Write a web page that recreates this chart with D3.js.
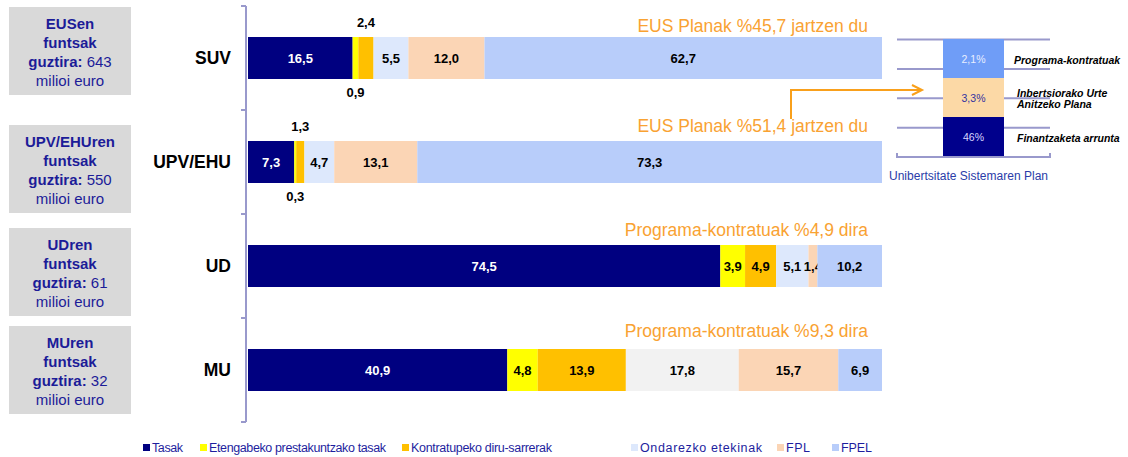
<!DOCTYPE html>
<html><head><meta charset="utf-8">
<script src="https://cdn.jsdelivr.net/npm/d3@7"></script>
<style>
body{margin:0;background:#fff;}
svg{display:block;font-family:"Liberation Sans",Arial,sans-serif;}
</style></head>
<body><svg id="c" width="1128" height="457"></svg>
<script>
// ---- data ----
const categories = ["SUV","UPV/EHU","UD","MU"];
const seriesNames = ["Tasak","Etengabeko prestakuntzako tasak","Kontratupeko diru-sarrerak","Ondarezko etekinak","FPL","FPEL"];
const tasak      = [16.5, 7.3, 74.5, 40.9];
const etengabeko = [0.9, 0.3, 3.9, 4.8];
const kontratu   = [2.4, 1.3, 4.9, 13.9];
const ondarezko  = [5.5, 4.7, 5.1, 17.8];
const fpl        = [12.0, 13.1, 1.4, 15.7];
const fpel       = [62.7, 73.3, 10.2, 6.9];
const valueLabels = [
  ["16,5","0,9","2,4","5,5","12,0","62,7"],
  ["7,3","0,3","1,3","4,7","13,1","73,3"],
  ["74,5","3,9","4,9","5,1","1,4","10,2"],
  ["40,9","4,8","13,9","17,8","15,7","6,9"]
];
const boxNames = ["EUSen","UPV/EHUren","UDren","MUren"];
const boxTotals = ["643","550","61","32"];
const annotations = ["EUS Planak %45,7 jartzen du","EUS Planak %51,4 jartzen du","Programa-kontratuak %4,9 dira","Programa-kontratuak %9,3 dira"];
const planItems = ["Finantzaketa arrunta","Inbertsiorako Urte Anitzeko Plana","Programa-kontratuak"];
const planLabels = ["46%","3,3%","2,1%"];
const planTitle = "Unibertsitate Sistemaren Plan";

// ---- layout / style ----
const colors = ["#000080","#FFFF00","#FFC000","#DDE8FC","#FBD5B5","#B8CDFA"];
const series = [tasak, etengabeko, kontratu, ondarezko, fpl, fpel];
const boxTopY = [7,125,228,326];
const annotGap = [5,9,9,12];
const legX = [143,200,402,631,777,832];
const legW = [31,177,141,122,24,31];

const svg = d3.select("#c");
const x = d3.scaleLinear().domain([0,100]).range([248,882]);
const y = d3.scaleBand().domain(categories).range([6,422]).padding(0);
const barH = 42;

// left boxes
const boxG = svg.append("g");
categories.forEach((c,i)=>{
  const top = boxTopY[i];
  boxG.append("rect").attr("x",9).attr("y",top).attr("width",122).attr("height",88).attr("fill","#D9D9D9");
  const t = boxG.append("text").attr("text-anchor","middle").attr("fill","#1C1C98").style("font-size","15px");
  const lx = 70;
  t.append("tspan").attr("x",lx).attr("y",top+22).attr("font-weight","bold").text(boxNames[i]);
  t.append("tspan").attr("x",lx).attr("y",top+41).attr("font-weight","bold").text("funtsak");
  const l3 = t.append("tspan").attr("x",lx).attr("y",top+60);
  l3.append("tspan").attr("font-weight","bold").text("guztira:");
  l3.append("tspan").text(" "+boxTotals[i]);
  t.append("tspan").attr("x",lx).attr("y",top+79).text("milioi euro");
});

// axis line & ticks
const axisColor = "#9999CC";
svg.append("line").attr("x1",246).attr("x2",246).attr("y1",y.range()[0]).attr("y2",y.range()[1]).attr("stroke",axisColor).attr("stroke-width",2);
const tickYs = categories.map(c=>y(c)).concat([y.range()[1]]);
svg.selectAll(".tk").data(tickYs).enter().append("line").attr("x1",241).attr("x2",246).attr("y1",d=>d).attr("y2",d=>d).attr("stroke",axisColor).attr("stroke-width",2);

// category labels
svg.selectAll(".cat").data(categories).enter().append("text")
  .attr("x",231).attr("y",d=>y(d)+y.bandwidth()/2+6).attr("text-anchor","end")
  .attr("font-weight","bold").style("font-size","17.5px").attr("fill","#000").text(d=>d);

// bars
categories.forEach((c,i)=>{
  let cum = 0;
  const by = y(c) + y.bandwidth()/2 - barH/2;
  series.forEach((s,j)=>{
    const v = s[i];
    const x0 = x(cum), x1 = x(cum+v);
    let col = colors[j];
    if (c==="MU" && j===3) col = "#F2F2F2";
    svg.append("rect").attr("x",x0).attr("y",by).attr("width",x1-x0).attr("height",barH).attr("fill",col);
    let ly = by + barH/2 + 5;
    const small = v < 3 && (c==="SUV"||c==="UPV/EHU");
    if (small) ly = (j===1) ? by + barH + 18 : by - 10;
    const lx = (x0+x1)/2;
    svg.append("text").attr("x",lx).attr("y",ly).attr("text-anchor","middle")
      .attr("font-weight","bold").style("font-size","13px")
      .attr("fill", j===0 ? "#fff" : "#000").text(valueLabels[i][j]);
    cum += v;
  });
  svg.append("text").attr("x",868).attr("y",by-annotGap[i]).attr("text-anchor","end")
    .style("font-size","17.5px").attr("fill","#F9A232").text(annotations[i]);
});

// orange arrow
const ac = "#F9A01B";
const ay = 90;
svg.append("path").attr("d",`M791,${y("UPV/EHU")+9}V${ay}H921`).attr("fill","none").attr("stroke",ac).attr("stroke-width",2);
svg.append("path").attr("d",`M912,${ay-5}L922,${ay}L912,${ay+5}`).attr("fill","none").attr("stroke",ac).attr("stroke-width",2);

// mini chart
const my = d3.scaleLinear().domain([0,4]).range([157,39.5]);
svg.selectAll(".mg").data([1,2,3,4]).enter().append("line")
  .attr("x1",897).attr("x2",1050).attr("y1",d=>my(d)).attr("y2",d=>my(d)).attr("stroke",axisColor).attr("stroke-width",2);
svg.append("path").attr("d",`M897,${my(0)-4}V${my(0)}H1050V${my(0)-4}`).attr("fill","none").attr("stroke",axisColor).attr("stroke-width",2);
const mb = d3.scaleBand().domain(planItems).range([156,39]);
const planColors = ["#00008C","#FCD9A6","#6F9DF7"];
const planText = ["#D8D8FF","#3333A0","#E8EEFF"];
planItems.forEach((p,i)=>{
  svg.append("rect").attr("x",943).attr("y",mb(p)).attr("width",61).attr("height",mb.bandwidth()).attr("fill",planColors[i]);
  svg.append("text").attr("x",973.5).attr("y",mb(p)+mb.bandwidth()/2+4).attr("text-anchor","middle")
    .style("font-size","10.5px").attr("fill",planText[i]).text(planLabels[i]);
});
const rl = svg.append("g").attr("font-weight","bold").attr("font-style","italic").style("font-size","10.5px").attr("fill","#000");
rl.append("text").attr("x",1014).attr("y",mb(planItems[2])+mb.bandwidth()/2+5).text("Programa-kontratuak");
rl.append("text").attr("x",1017).attr("y",mb(planItems[1])+mb.bandwidth()/2-1).text("Inbertsiorako Urte");
rl.append("text").attr("x",1017).attr("y",mb(planItems[1])+mb.bandwidth()/2+10).text("Anitzeko Plana");
rl.append("text").attr("x",1017).attr("y",mb(planItems[0])+mb.bandwidth()/2+5).text("Finantzaketa arrunta");
svg.append("text").attr("x",889).attr("y",180).style("font-size","12px").attr("fill","#2A3CA8").attr("textLength",159).text(planTitle);

// legend
const lg = svg.append("g");
seriesNames.forEach((n,i)=>{
  lg.append("rect").attr("x",legX[i]).attr("y",444).attr("width",7).attr("height",7).attr("fill",colors[i]);
  lg.append("text").attr("x",legX[i]+9).attr("y",452).style("font-size","12.5px").attr("fill","#1E1E9E")
    .attr("textLength",legW[i]).attr("lengthAdjust","spacing").text(n);
});
</script></body></html>
